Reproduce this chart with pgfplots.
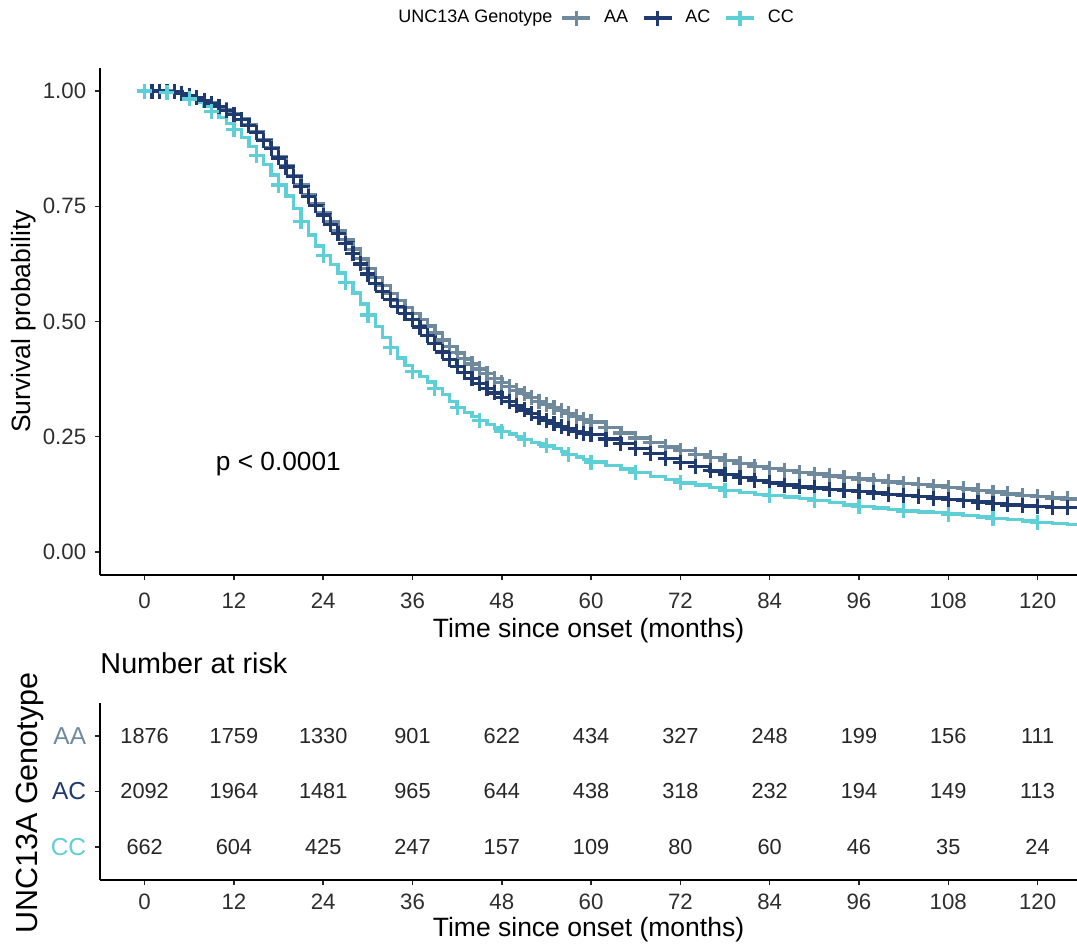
\documentclass[border=0pt]{standalone}
\usepackage{fontspec}
\setmainfont{Liberation Sans}
\usepackage{pgfplots}
\usepackage{pgfplotstable}
\pgfplotsset{compat=1.18}

\definecolor{cAA}{HTML}{6E8A9C}
\definecolor{cAC}{HTML}{1E3A6E}
\definecolor{cCC}{HTML}{5ECFD6}

% Kaplan-Meier curves (months, survival)
\pgfplotstableread{
t s
0 1.000
1 1.000
2 1.000
3 1.000
4 0.998
5 0.995
6 0.991
7 0.986
8 0.980
9 0.974
10 0.967
11 0.959
12 0.950
13 0.939
14 0.927
15 0.912
16 0.895
17 0.877
18 0.858
19 0.838
20 0.817
21 0.796
22 0.776
23 0.756
24 0.736
25 0.717
26 0.698
27 0.678
28 0.657
29 0.636
30 0.615
31 0.596
32 0.578
33 0.561
34 0.546
35 0.531
36 0.517
37 0.504
38 0.490
39 0.475
40 0.460
41 0.446
42 0.432
43 0.419
44 0.408
45 0.397
46 0.387
47 0.377
48 0.368
49 0.359
50 0.351
51 0.343
52 0.335
53 0.327
54 0.320
55 0.313
56 0.307
57 0.300
58 0.294
59 0.288
60 0.282
62 0.270
64 0.258
66 0.247
68 0.237
70 0.228
72 0.220
74 0.212
76 0.205
78 0.198
80 0.192
82 0.186
84 0.181
86 0.177
88 0.173
90 0.169
92 0.165
94 0.161
96 0.158
98 0.155
100 0.152
102 0.149
104 0.146
106 0.143
108 0.140
110 0.137
112 0.134
114 0.130
116 0.126
118 0.123
120 0.120
122 0.117
124 0.115
126 0.113
}\tabAA

\pgfplotstableread{
t s
0 1.000
1 1.000
2 1.000
3 0.999
4 0.998
5 0.995
6 0.990
7 0.985
8 0.979
9 0.973
10 0.966
11 0.958
12 0.949
13 0.938
14 0.925
15 0.910
16 0.893
17 0.875
18 0.855
19 0.835
20 0.814
21 0.793
22 0.772
23 0.751
24 0.731
25 0.711
26 0.691
27 0.670
28 0.648
29 0.625
30 0.603
31 0.583
32 0.565
33 0.548
34 0.532
35 0.518
36 0.504
37 0.488
38 0.470
39 0.452
40 0.434
41 0.417
42 0.402
43 0.389
44 0.377
45 0.366
46 0.355
47 0.345
48 0.335
49 0.326
50 0.317
51 0.308
52 0.300
53 0.292
54 0.285
55 0.278
56 0.272
57 0.267
58 0.262
59 0.258
60 0.255
62 0.245
64 0.235
66 0.225
68 0.214
70 0.203
72 0.194
74 0.185
76 0.176
78 0.168
80 0.161
82 0.155
84 0.150
86 0.145
88 0.141
90 0.139
92 0.136
94 0.133
96 0.131
98 0.128
100 0.125
102 0.122
104 0.120
106 0.117
108 0.114
110 0.111
112 0.108
114 0.105
116 0.102
118 0.100
120 0.098
122 0.097
124 0.096
126 0.095
}\tabAC

\pgfplotstableread{
t s
0 1.000
1 1.000
2 0.999
3 0.997
4 0.994
5 0.990
6 0.983
7 0.975
8 0.966
9 0.955
10 0.943
11 0.930
12 0.916
13 0.899
14 0.880
15 0.860
16 0.840
17 0.818
18 0.796
19 0.772
20 0.745
21 0.717
22 0.688
23 0.664
24 0.643
25 0.624
26 0.605
27 0.585
28 0.562
29 0.538
30 0.514
31 0.489
32 0.465
33 0.443
34 0.421
35 0.404
36 0.392
37 0.381
38 0.369
39 0.355
40 0.341
41 0.327
42 0.314
43 0.303
44 0.294
45 0.285
46 0.277
47 0.269
48 0.262
49 0.256
50 0.250
51 0.244
52 0.238
53 0.234
54 0.230
55 0.224
56 0.218
57 0.212
58 0.206
59 0.200
60 0.195
62 0.187
64 0.180
66 0.172
68 0.164
70 0.157
72 0.150
74 0.145
76 0.140
78 0.134
80 0.129
82 0.125
84 0.122
86 0.119
88 0.116
90 0.112
92 0.107
94 0.102
96 0.098
98 0.095
100 0.092
102 0.089
104 0.087
106 0.085
108 0.082
110 0.079
112 0.076
114 0.073
116 0.070
118 0.067
120 0.064
122 0.062
124 0.060
126 0.059
}\tabCC

% number at risk
\pgfplotstableread{
t g n
0 3 1876
12 3 1759
24 3 1330
36 3 901
48 3 622
60 3 434
72 3 327
84 3 248
96 3 199
108 3 156
120 3 111
0 2 2092
12 2 1964
24 2 1481
36 2 965
48 2 644
60 2 438
72 2 318
84 2 232
96 2 194
108 2 149
120 2 113
0 1 662
12 1 604
24 1 425
36 1 247
48 1 157
60 1 109
72 1 80
84 1 60
96 1 46
108 1 35
120 1 24
}\tabRisk

\pgfplotsset{
  km/.style={
    scale only axis,
    width=390.8pt,
    xmin=-6, xmax=125.3,
    axis x line*=bottom, axis y line*=left,
    axis line style={line width=0.6pt},
    tick align=outside,
    major tick length=2pt,
    tick style={line width=0.6pt, black!85},
    xtick={0,12,...,120},
    /pgf/number format/assume math mode=true,
    ticklabel style={font=\fontsize{8.9}{11}\selectfont, text=black!82},
    xticklabel style={yshift=-1.5pt},
    label style={font=\fontsize{10.6}{13}\selectfont},
    xlabel={Time since onset (months)},
  },
  curve/.style={const plot, line width=1.35pt, mark=+, mark size=3pt,
    mark options={solid, line width=1.3pt}},
}

\begin{document}
\begin{tikzpicture}
\begin{axis}[
  km,
  at={(40pt,-230pt)}, anchor=south west,
  height=202.8pt,
  ymin=-0.05, ymax=1.05,
  ytick={0,0.25,0.5,0.75,1},
  yticklabels={0.00,0.25,0.50,0.75,1.00},
  ylabel={Survival probability},
  ylabel style={at={(axis description cs:-0.0785,0.5)}, anchor=center},
  xlabel style={at={(axis description cs:0.5,-0.11)}, anchor=center},
  legend columns=-1,
  legend style={at={(axis description cs:0.471,1.0986)}, anchor=west, draw=none,
    fill=none, font=\fontsize{7.2}{9}\selectfont, inner sep=0pt,
    /tikz/every odd column/.append style={column sep=2.8pt},
    /tikz/every even column/.append style={column sep=3.6pt}},
  legend image code/.code={\draw[#1, mark repeat=2, mark phase=2]
    plot coordinates {(0pt,0pt) (5.6pt,0pt) (11.2pt,0pt)};},
]
\addplot[curve, cAA] table[x=t, y=s] {\tabAA};
\addlegendentry{AA}
\addplot[curve, cAC] table[x=t, y=s] {\tabAC};
\addlegendentry{AC}
\addplot[curve, cCC, mark repeat=3] table[x=t, y=s] {\tabCC};
\addlegendentry{CC}
\node[anchor=west, font=\fontsize{10.5}{12}\selectfont] at (axis cs:8.4,0.19) {p < 0.0001};
\end{axis}
\node[anchor=east, font=\fontsize{7.2}{9}\selectfont, inner sep=0pt] at (221.2pt,-7.2pt) {UNC13A Genotype};

\begin{axis}[
  km,
  at={(40pt,-352pt)}, anchor=south west,
  height=70.8pt,
  ymin=0.4, ymax=3.6,
  ytick={1,2,3},
  yticklabels={\textcolor{cCC}{CC},\textcolor{cAC}{AC},\textcolor{cAA}{AA}},
  yticklabel style={font=\fontsize{9.8}{11}\selectfont},
  xticklabel style={yshift=1.5pt},
  ylabel={UNC13A Genotype},
  ylabel style={at={(axis description cs:-0.0716,0.435)}, anchor=center,
    font=\fontsize{12.2}{14}\selectfont},
  xlabel style={at={(axis description cs:0.5,-0.282)}, anchor=center},
  title={Number at risk},
  title style={at={(axis description cs:0,1)}, anchor=west, yshift=10pt,
    font=\fontsize{11.5}{13}\selectfont, inner sep=0pt},
]
\addplot[only marks, mark=none, nodes near coords, point meta=explicit symbolic,
  every node near coord/.style={anchor=center, font=\fontsize{8.7}{10}\selectfont, text=black!85}]
  table[x=t, y=g, meta=n] {\tabRisk};
\end{axis}

\pgfresetboundingbox
\path (0pt,0pt) rectangle (430.8pt,-379.6pt);
\end{tikzpicture}
\end{document}
